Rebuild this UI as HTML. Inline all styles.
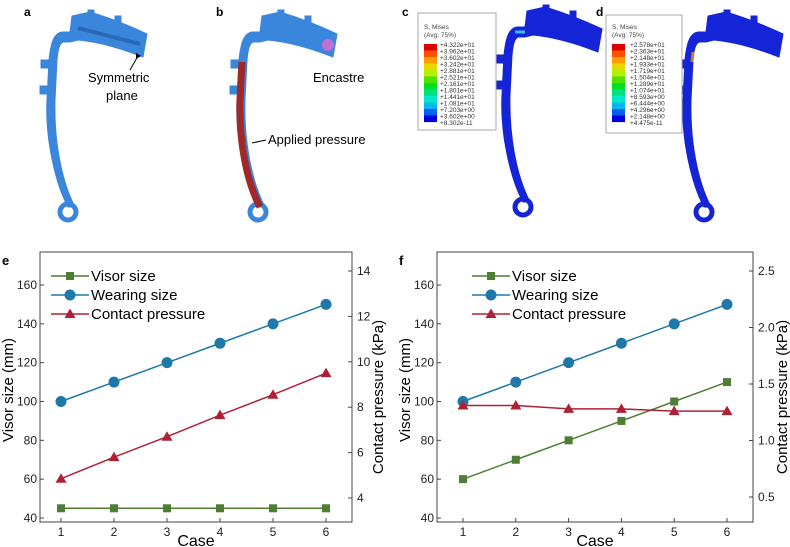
<!DOCTYPE html>
<html><head><meta charset="utf-8"><style>
body{margin:0;background:#fff;font-family:"Liberation Sans",sans-serif}
svg{display:block}
</style></head><body>
<svg id="fig" width="790" height="547" viewBox="0 0 790 547" xmlns="http://www.w3.org/2000/svg" font-family="Liberation Sans, sans-serif">
<defs>
<g id="visor">
  <path d="M68,207 C56,185 45,140 47,100 L49,60 C51,40 55,33 62,32 L70,32 L72,16 L90,12 C110,18 130,26 147,34 L143,57 C125,50 100,42 78,40 L70,42 L63,42 C59,44 58,50 57,60 L55,100 C54,140 61,180 75,207 Z" />
  <circle cx="68" cy="212" r="8" fill="none" stroke-width="5" />
  <rect x="41" y="60" width="8" height="8"/><rect x="40" y="86" width="8" height="8"/>
  <rect x="88" y="10" width="6" height="6"/><rect x="115" y="16" width="6" height="6"/>
</g>
</defs>
<g>
<text x="24" y="16" font-size="12" font-weight="bold">a</text>
<g fill="#3a86dc" stroke="#3a86dc"><use href="#visor"/></g>
<path d="M78,28 L140,44" stroke="#2a68b8" stroke-width="4" fill="none"/>
<text x="88" y="82" font-size="13">Symmetric</text>
<text x="106" y="100" font-size="13">plane</text>
<path d="M130,70 L138,56" stroke="#000" stroke-width="1"/><path d="M136,53 L141,56 L136,59Z" fill="#000"/>
</g>
<g>
<text x="216" y="16" font-size="12" font-weight="bold">b</text>
<g transform="translate(190,0)" fill="#3a86dc" stroke="#3a86dc"><use href="#visor"/>
<path d="M52,62 L50,100 C49,140 56,180 70,207" stroke="#a02828" stroke-width="7" fill="none"/>
<circle cx="138" cy="45" r="6" fill="#c070d0" stroke="none"/>
</g>
<text x="313" y="82" font-size="13">Encastre</text>
<text x="268" y="144" font-size="13">Applied pressure</text>
<path d="M266,140 L252,143" stroke="#000"/>
</g>
<g>
<text x="402" y="16" font-size="12" font-weight="bold">c</text>
<g transform="translate(455,-5)" fill="#1424d6" stroke="#1424d6"><use href="#visor"/>
<path d="M60,37 L70,37" stroke="#30c0e0" stroke-width="3"/></g>
<g id="legc">
<rect x="418" y="13" width="78" height="117" fill="#fff" stroke="#aaa"/>
<text x="424" y="29" font-size="6.5" fill="#444">S, Mises</text>
<text x="424" y="37" font-size="6.5" fill="#444">(Avg: 75%)</text>
<g font-size="6.5" fill="#333">
<text x="440" y="47">+4.322e+01</text><text x="440" y="53.5">+3.962e+01</text><text x="440" y="60">+3.602e+01</text><text x="440" y="66.5">+3.242e+01</text><text x="440" y="73">+2.881e+01</text><text x="440" y="79.5">+2.521e+01</text><text x="440" y="86">+2.161e+01</text><text x="440" y="92.5">+1.801e+01</text><text x="440" y="99">+1.441e+01</text><text x="440" y="105.5">+1.081e+01</text><text x="440" y="112">+7.203e+00</text><text x="440" y="118.5">+3.602e+00</text><text x="440" y="125">+8.302e-11</text>
</g></g>
</g>
<g>
<text x="596" y="16" font-size="12" font-weight="bold">d</text>
<g transform="translate(636,0)" fill="#1424d6" stroke="#1424d6"><use href="#visor"/>
<path d="M57,52 L56,62" stroke="#c08020" stroke-width="3"/></g>
<g id="legd">
<rect x="606" y="15" width="76" height="118" fill="#fff" stroke="#aaa"/>
<text x="612" y="29" font-size="6.5" fill="#444">S, Mises</text>
<text x="612" y="37" font-size="6.5" fill="#444">(Avg: 75%)</text>
<g font-size="6.5" fill="#333">
<text x="630" y="47">+2.578e+01</text><text x="630" y="53.5">+2.363e+01</text><text x="630" y="60">+2.148e+01</text><text x="630" y="66.5">+1.933e+01</text><text x="630" y="73">+1.719e+01</text><text x="630" y="79.5">+1.504e+01</text><text x="630" y="86">+1.289e+01</text><text x="630" y="92.5">+1.074e+01</text><text x="630" y="99">+8.593e+00</text><text x="630" y="105.5">+6.444e+00</text><text x="630" y="112">+4.296e+00</text><text x="630" y="118.5">+2.148e+00</text><text x="630" y="125">+4.475e-11</text>
</g></g>
</g>
<g id="charts"></g>
</svg>
<script>
const cases = [1, 2, 3, 4, 5, 6];
const leftTicks = [40, 60, 80, 100, 120, 140, 160];
const eVisor = [45, 45, 45, 45, 45, 45];
const eWearing = [100, 110, 120, 130, 140, 150];
const ePressure = [4.85, 5.8, 6.7, 7.65, 8.55, 9.5];
const eRightTicks = [4, 6, 8, 10, 12, 14];
const fVisor = [60, 70, 80, 90, 100, 110];
const fWearing = [100, 110, 120, 130, 140, 150];
const fPressure = [1.31, 1.31, 1.28, 1.28, 1.26, 1.26];
const fRightTicks = ['0.5', '1.0', '1.5', '2.0', '2.5'];
const seriesNames = ['Visor size', 'Wearing size', 'Contact pressure'];
const contourColors = ['#e00000','#ff5000','#ff9c00','#e8d800','#b4f000','#50e000','#00e020','#00e080','#00e8c8','#00b8f0','#0060f0','#0000e0'];

const NS = 'http://www.w3.org/2000/svg';
const root = document.getElementById('charts');
function mk(tag, attrs, parent, txt) {
  const e = document.createElementNS(NS, tag);
  for (const k in attrs) e.setAttribute(k, attrs[k]);
  if (txt !== undefined) e.textContent = txt;
  parent.appendChild(e);
  return e;
}
[['legc', 424], ['legd', 612]].forEach(([id, bx]) => {
  const lg = document.getElementById(id);
  contourColors.forEach((c, i) => {
    const r = mk('rect', {x: bx, y: 44 + i * 6.5, width: 13, height: 6.6, fill: c}, lg);
    
    
  });
});
function chart(o) {
  const g = mk('g', {}, root);
  
  
  const L = o.left, R = o.right, T = 252, B = 522;
  const x = c => o.x1 + (c - 1) * (o.x6 - o.x1) / 5;
  const yl = v => 518 - (v - 40) * (518 - 285) / 120;
  const yr = v => o.r0y - (v - o.r0) * (o.r0y - o.r1y) / (o.r1 - o.r0);
  mk('text', {x: L - 38, y: 265, 'font-size': 13, 'font-weight': 'bold'}, g, o.label);
  mk('rect', {x: L, y: T, width: R - L, height: B - T, fill: 'none', stroke: '#444', 'stroke-width': 1}, g);
  leftTicks.forEach(t => {
    mk('line', {x1: L, x2: L + 4, y1: yl(t), y2: yl(t), stroke: '#444'}, g);
    const tl = mk('text', {x: L - 3, y: yl(t) + 4, 'font-size': 12, 'text-anchor': 'end', fill: '#222'}, g, t);
    
    
  });
  o.rt.forEach(t => {
    const v = parseFloat(t);
    mk('line', {x1: R, x2: R - 4, y1: yr(v), y2: yr(v), stroke: '#444'}, g);
    const tl = mk('text', {x: R + 5, y: yr(v) + 4, 'font-size': 12, fill: '#222'}, g, t);
    
    
  });
  cases.forEach(c => {
    mk('line', {x1: x(c), x2: x(c), y1: B, y2: B - 4, stroke: '#444'}, g);
    const tl = mk('text', {x: x(c), y: B + 14, 'font-size': 12, 'text-anchor': 'middle', fill: '#222'}, g, c);
    
    
  });
  const xt = mk('text', {x: (L + R) / 2, y: 546, 'font-size': 16, 'text-anchor': 'middle'}, g, 'Case');
  
  
  const ylt = mk('text', {transform: `translate(${L - 27},390) rotate(-90)`, 'font-size': 15, 'text-anchor': 'middle'}, g, 'Visor size (mm)');
  
  
  const yrt = mk('text', {transform: `translate(${R + o.rtOff},397) rotate(-90)`, 'font-size': 15, 'text-anchor': 'middle'}, g, 'Contact pressure (kPa)');
  
  
  const series = [
    {vals: o.visor, y: yl, col: '#4e7d34', shape: 'sq'},
    {vals: o.wearing, y: yl, col: '#1e78a8', shape: 'ci'},
    {vals: o.pressure, y: yr, col: '#b02034', shape: 'tr'}];
  function marker(p, s, cx, cy) {
    if (s.shape === 'sq') return mk('rect', {x: cx - 4, y: cy - 4, width: 8, height: 8, fill: s.col}, p);
    if (s.shape === 'ci') return mk('circle', {cx, cy, r: 5.5, fill: s.col}, p);
    return mk('path', {d: `M${cx},${cy - 5.5} L${cx + 5.5},${cy + 4} L${cx - 5.5},${cy + 4}Z`, fill: s.col}, p);
  }
  series.forEach((s, i) => {
    const sg = mk('g', {}, g);
    
    
    mk('polyline', {points: cases.map((c, j) => x(c) + ',' + s.y(s.vals[j])).join(' '), fill: 'none', stroke: s.col, 'stroke-width': 1.5}, sg);
    cases.forEach((c, j) => {
      const m = marker(sg, s, x(c), s.y(s.vals[j]));
      
      
    });
    const ly = 276 + i * 19, lx = o.legX;
    const le = mk('g', {}, g);
    
    
    mk('line', {x1: lx, x2: lx + 38, y1: ly, y2: ly, stroke: s.col, 'stroke-width': 1.5}, le);
    marker(le, s, lx + 19, ly);
    mk('text', {x: lx + 40, y: ly + 5, 'font-size': 15}, le, seriesNames[i]);
  });
}
chart({label: 'e', left: 40, right: 352, x1: 61, x6: 326, visor: eVisor, wearing: eWearing, pressure: ePressure, rt: eRightTicks.map(String), r0: 4, r0y: 498, r1: 14, r1y: 271, legX: 51, rtOff: 31});
chart({label: 'f', left: 437, right: 753, x1: 463, x6: 727, visor: fVisor, wearing: fWearing, pressure: fPressure, rt: fRightTicks, r0: 0.5, r0y: 497, r1: 2.5, r1y: 271, legX: 472, rtOff: 34});
</script>
</body></html>
